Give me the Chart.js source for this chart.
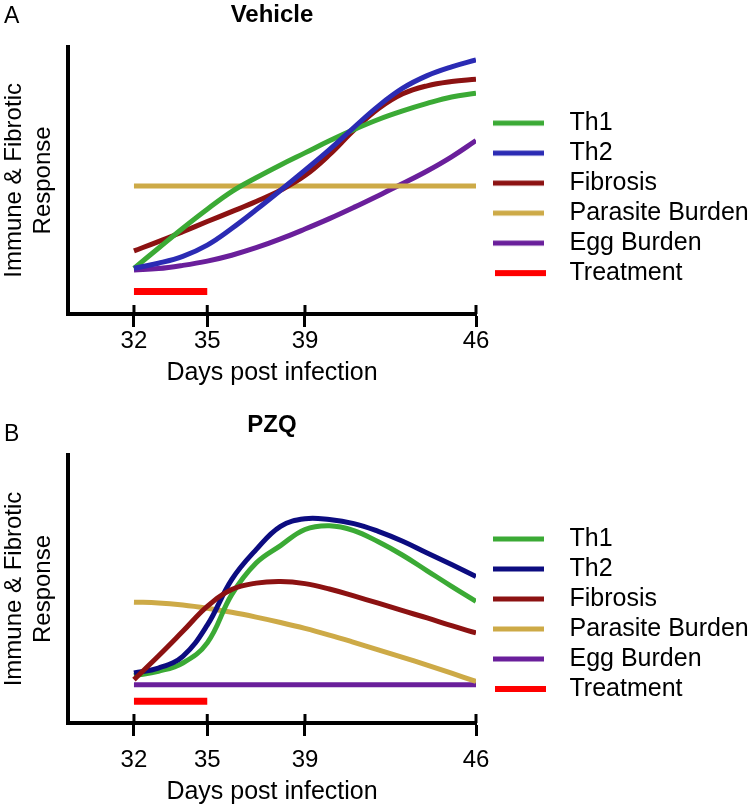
<!DOCTYPE html>
<html>
<head>
<meta charset="utf-8">
<script src="https://cdn.jsdelivr.net/npm/chart.js@4.4.1/dist/chart.umd.min.js"></script>
<style>
html,body{margin:0;padding:0;background:#fff;}
#wrap{position:relative;width:750px;height:809px;overflow:hidden;background:#fff;}
.panel{position:absolute;left:0;width:750px;}
.tag{position:absolute;font-family:'Liberation Sans',Arial,sans-serif;font-size:23px;line-height:23px;color:#000;}
</style>
</head>
<body>
<div id="wrap">
  <div class="panel" style="top:0;height:400px"><canvas id="chartA"></canvas></div>
  <div class="panel" style="top:400px;height:409px"><canvas id="chartB"></canvas></div>
  <div class="tag" style="left:4px;top:4px">A</div>
  <div class="tag" style="left:4px;top:422px">B</div>
</div>
<script>
// ---- data (arbitrary response units 0-100) ----
const days = [32, 33, 34, 35, 36, 37, 38, 39, 40, 41, 42, 43, 44, 45, 46];
const tickDays = [32, 35, 39, 46];
const treatDays = [32, 35];
const seriesNames = ['Th1', 'Th2', 'Fibrosis', 'Parasite Burden', 'Egg Burden', 'Treatment'];

// Panel A: Vehicle
const vehTh1 = [17.1, 24.6, 32.1, 39.2, 45.8, 51.0, 55.8, 60.3, 64.8, 69.0, 72.8, 76.0, 78.8, 81.2, 82.6];
const vehTh2 = [17.1, 19.0, 21.6, 25.8, 32.0, 39.0, 46.3, 53.8, 61.5, 69.8, 77.8, 84.5, 89.2, 92.5, 95.1];
const vehFib = [23.6, 27.1, 30.8, 34.6, 38.3, 42.1, 46.3, 51.8, 59.6, 68.8, 76.8, 82.4, 85.4, 87.0, 87.9];
const vehPar = [47.9, 47.9, 47.9, 47.9, 47.9, 47.9, 47.9, 47.9, 47.9, 47.9, 47.9, 47.9, 47.9, 47.9, 47.9];
const vehEgg = [16.5, 17.0, 18.2, 19.8, 22.0, 24.8, 28.1, 31.8, 35.7, 39.9, 44.3, 48.8, 53.5, 58.8, 64.9];
const vehTreat = [8.4, 8.4];

// Panel B: PZQ
const pzqTh1 = [17.7, 19.3, 22.4, 29.9, 47.9, 59.7, 66.2, 72.2, 73.6, 71.8, 67.6, 62.6, 56.8, 51.0, 45.4];
const pzqTh2 = [18.7, 20.5, 24.9, 36.5, 53.5, 64.7, 73.4, 76.2, 75.9, 74.4, 71.5, 67.8, 63.4, 59.1, 54.7];
const pzqFib = [16.2, 25.0, 34.2, 43.5, 49.8, 52.2, 52.8, 52.0, 50.0, 47.4, 44.7, 41.9, 39.2, 36.3, 33.6];
const pzqPar = [45.1, 44.8, 44.0, 42.8, 41.3, 39.5, 37.5, 35.3, 32.8, 30.1, 27.3, 24.5, 21.6, 18.6, 15.5];
const pzqEgg = [14.3, 14.3, 14.3, 14.3, 14.3, 14.3, 14.3, 14.3, 14.3, 14.3, 14.3, 14.3, 14.3, 14.3, 14.3];
const pzqTreat = [8.1, 8.1];

// ---- styling ----
Chart.defaults.font.family = "'Liberation Sans', Arial, Helvetica, sans-serif";
Chart.defaults.color = '#000';

const LEGEND_W = 274;

function pts(xs, ys) { return xs.map((x, i) => ({ x: x, y: ys[i] })); }

function swatch(color, thick, start, len) {
  const c = document.createElement('canvas');
  c.width = 76; c.height = 8;
  const g = c.getContext('2d');
  g.fillStyle = color;
  g.fillRect(start, (8 - thick) / 2, len, thick);
  return c;
}

const axisExtras = {
  id: 'axisExtras',
  beforeLayout(chart) {
    const lg = chart.legend;
    if (lg && !lg.__fixedWidth) {
      const fit = lg.fit;
      lg.fit = function () { fit.call(this); this.width = LEGEND_W; };
      lg.__fixedWidth = true;
    }
  },
  afterDraw(chart) {
    const s = chart.scales.x;
    const ctx = chart.ctx;
    ctx.save();
    ctx.strokeStyle = '#000';
    ctx.lineWidth = 3;
    s.ticks.forEach(t => {
      const px = s.getPixelForValue(t.value);
      ctx.beginPath();
      ctx.moveTo(px, s.top - 9);
      ctx.lineTo(px, s.top);
      ctx.stroke();
    });
    ctx.restore();
  }
};

function lineDs(label, xs, ys, color, width, order, smooth) {
  return {
    label: label,
    data: pts(xs, ys),
    borderColor: color,
    backgroundColor: color,
    borderWidth: width,
    pointRadius: 0,
    pointHoverRadius: 0,
    fill: false,
    tension: smooth ? 0.4 : 0,
    borderCapStyle: 'butt',
    order: order
  };
}

function makeChart(id, p) {
  const colors = p.colors;
  const datasets = [
    lineDs(seriesNames[0], days, p.th1, colors[0], 5, p.orders[0], true),
    lineDs(seriesNames[1], days, p.th2, colors[1], 5, p.orders[1], true),
    lineDs(seriesNames[2], days, p.fib, colors[2], 5, p.orders[2], true),
    lineDs(seriesNames[3], days, p.par, colors[3], 5, p.orders[3], true),
    lineDs(seriesNames[4], days, p.egg, colors[4], 5, p.orders[4], true),
    lineDs(seriesNames[5], treatDays, p.treat, colors[5], 7, p.orders[5], false)
  ];
  return new Chart(document.getElementById(id), {
    type: 'line',
    data: { datasets: datasets },
    plugins: [axisExtras],
    options: {
      responsive: true,
      maintainAspectRatio: false,
      animation: false,
      devicePixelRatio: 1,
      events: [],
      layout: { padding: 0 },
      plugins: {
        tooltip: { enabled: false },
        title: {
          display: true,
          text: p.title,
          fullSize: false,
          color: '#000',
          font: { size: 24, weight: 'bold' },
          padding: p.titlePad
        },
        legend: {
          display: true,
          position: 'right',
          align: 'start',
          fullSize: false,
          title: { display: true, text: '', font: { size: 10, lineHeight: 1 }, padding: { top: p.legendTop, bottom: 0 } },
          labels: {
            usePointStyle: true,
            pointStyleWidth: 76,
            padding: 5,
            color: '#000',
            font: { size: 25 },
            generateLabels(chart) {
              return chart.data.datasets.map((ds, i) => ({
                text: ds.label,
                fillStyle: ds.borderColor,
                strokeStyle: ds.borderColor,
                lineWidth: 0,
                fontColor: '#000',
                hidden: false,
                datasetIndex: i,
                pointStyle: i === 5 ? swatch(ds.borderColor, 6, 14, 51) : swatch(ds.borderColor, 5, 12, 51)
              }));
            }
          }
        }
      },
      scales: {
        x: {
          type: 'linear',
          min: 29.3,
          max: 46,
          afterBuildTicks: s => { s.ticks = tickDays.map(v => ({ value: v })); },
          afterFit: s => { s.height = 86; },
          grid: { display: true, drawOnChartArea: false, drawTicks: true, tickLength: 13, tickWidth: 3, tickColor: '#000', color: '#000' },
          border: { display: true, color: '#000', width: 4 },
          ticks: { color: '#000', font: { size: 24 }, padding: p.tickPad, maxRotation: 0, autoSkip: false, callback: v => String(v) },
          title: { display: true, text: 'Days post infection', color: '#000', font: { size: 25 }, padding: { top: 0, bottom: p.xTitlePad } }
        },
        y: {
          type: 'linear',
          min: 0,
          max: 100,
          afterFit: s => { s.width = 68; },
          grid: { display: false },
          border: { display: true, color: '#000', width: 4 },
          ticks: { display: false },
          title: { display: true, text: ['Immune & Fibrotic', 'Response'], color: '#000', font: { size: 24 }, padding: { top: 0, bottom: 0 } }
        }
      }
    }
  });
}

makeChart('chartA', {
  title: 'Vehicle',
  th1: vehTh1, th2: vehTh2, fib: vehFib, par: vehPar, egg: vehEgg, treat: vehTreat,
  colors: ['#3BAA35', '#2B2BB4', '#8C1212', '#CDAA47', '#6A1F9B', '#FF0000'],
  orders: [1, 0, 2, 3, 4, 5],
  titlePad: { top: 1, bottom: 17 },
  legendTop: 48.8,
  tickPad: 0,
  xTitlePad: 11.5
});

makeChart('chartB', {
  title: 'PZQ',
  th1: pzqTh1, th2: pzqTh2, fib: pzqFib, par: pzqPar, egg: pzqEgg, treat: pzqTreat,
  colors: ['#3BAA35', '#0C0C80', '#8C1212', '#CDAA47', '#6A1F9B', '#FF0000'],
  orders: [2, 1, 0, 3, 4, 5],
  titlePad: { top: 10.6, bottom: 15.6 },
  legendTop: 56.5,
  tickPad: 10,
  xTitlePad: 1.5
});
</script>
</body>
</html>
